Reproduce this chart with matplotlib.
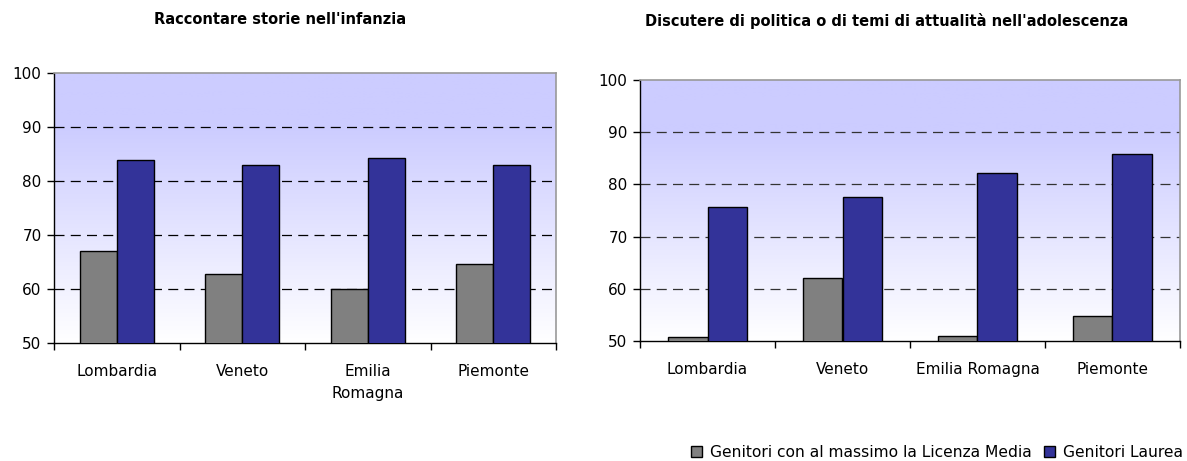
import matplotlib
matplotlib.use("Agg")
import matplotlib.pyplot as plt
import numpy as np
from matplotlib.colors import LinearSegmentedColormap
from matplotlib.patches import Patch

regions_left = ["Lombardia", "Veneto", "Emilia\nRomagna", "Piemonte"]
regions_right = ["Lombardia", "Veneto", "Emilia Romagna", "Piemonte"]
title_left = "Raccontare storie nell'infanzia"
title_right = "Discutere di politica o di temi di attualità nell'adolescenza"
series_names = ["Genitori con al massimo la Licenza Media", "Genitori Laurea"]

left_media = [67.1, 62.8, 60.0, 64.6]
left_laurea = [83.9, 83.0, 84.2, 83.0]
right_media = [50.7, 62.0, 51.0, 54.8]
right_laurea = [75.6, 77.5, 82.2, 85.9]

yticks = [50, 60, 70, 80, 90, 100]
colors = ["#808080", "#333399"]

plt.rcParams['font.family'] = ['DejaVu Sans']

W, H = 1187, 461
fig = plt.figure(figsize=(W / 100, H / 100), dpi=100)
ax1 = fig.add_axes([54 / W, (H - 343) / H, 502 / W, 270 / H])
ax2 = fig.add_axes([640 / W, (H - 341) / H, 540 / W, 261 / H])

cmap = LinearSegmentedColormap.from_list("bg", [(0.0, "#FFFFFF"), (0.8, "#CCCCFF"), (1.0, "#CCCCFF")])
grad = np.linspace(0, 1, 256).reshape(-1, 1)


def draw(ax, cats, media, laurea, gridcolor):
    ax.imshow(grad, cmap=cmap, aspect="auto", extent=[0, 1, 0, 1],
              transform=ax.transAxes, origin="lower", zorder=0)
    x = np.arange(len(cats))
    w = 0.295
    ax.bar(x - w / 2, media, width=w, color=colors[0], edgecolor="black", linewidth=1.0, zorder=3)
    ax.bar(x + w / 2, laurea, width=w, color=colors[1], edgecolor="black", linewidth=1.0, zorder=3)
    ax.set_ylim(50, 100)
    ax.set_xlim(-0.5, len(cats) - 0.5)
    ax.set_yticks(yticks)
    ax.set_yticklabels([str(v) for v in yticks], fontsize=11)
    for v in yticks[1:-1]:
        ax.axhline(v, color=gridcolor, linestyle=(0, (8, 5)), linewidth=0.9, zorder=1)
    ax.set_xticks(np.arange(-0.5, len(cats), 1.0))
    ax.set_xticklabels([])
    ax.set_xticks(x, minor=True)
    ax.set_xticklabels(cats, minor=True, fontsize=11, linespacing=1.6)
    ax.tick_params(axis="x", which="minor", length=0, pad=15)
    ax.tick_params(axis="x", which="major", length=5, direction="out", width=1)
    ax.tick_params(axis="y", length=5, direction="out", width=1, pad=4)
    for s in ["top", "right"]:
        ax.spines[s].set_color("#999999")
        ax.spines[s].set_linewidth(1.2)
    for s in ["left", "bottom"]:
        ax.spines[s].set_color("black")
        ax.spines[s].set_linewidth(1)


draw(ax1, regions_left, left_media, left_laurea, "black")
draw(ax2, regions_right, right_media, right_laurea, "#333333")

fig.text(280 / W, 1 - 19 / H, title_left, ha="center", va="center", fontsize=10.5, fontweight="bold")
fig.text(887 / W, 1 - 21 / H, title_right, ha="center", va="center", fontsize=10.5, fontweight="bold")

handles = [Patch(facecolor=colors[0], edgecolor="black"), Patch(facecolor=colors[1], edgecolor="black")]
fig.legend(handles, series_names, loc="center right", bbox_to_anchor=(1183 / W, 1 - 452 / H), ncol=2,
           frameon=False, fontsize=11.2, handlelength=0.7, handleheight=0.7, handletextpad=0.5,
           columnspacing=0.8, borderaxespad=0.0, borderpad=0.0)

fig.savefig("out.png", dpi=100)
